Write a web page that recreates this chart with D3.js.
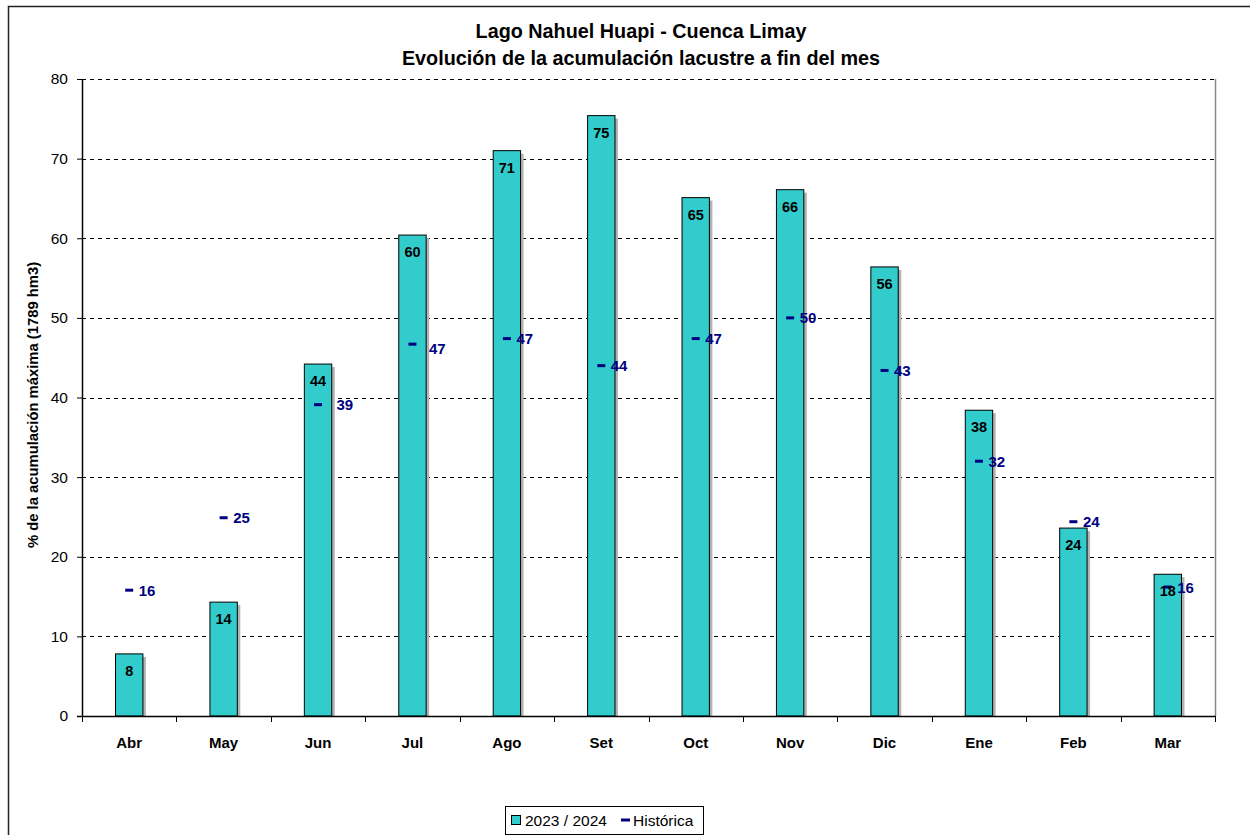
<!DOCTYPE html>
<html>
<head>
<meta charset="utf-8">
<script src="https://cdn.jsdelivr.net/npm/d3@7"></script>
<style>
  html, body { margin: 0; padding: 0; background: #fff; }
  svg { display: block; font-family: "Liberation Sans", Arial, sans-serif; }
</style>
</head>
<body>
<svg id="chart" width="1250" height="835"></svg>
<script>
// Months of the hydrological year (April to March)
const months = ["Abr", "May", "Jun", "Jul", "Ago", "Set", "Oct", "Nov", "Dic", "Ene", "Feb", "Mar"];
// Storage at month end, 2023/2024 (% of maximum storage, 1789 hm3)
const season2023 = [7.8, 14.3, 44.2, 60.4, 71.0, 75.4, 65.1, 66.1, 56.4, 38.4, 23.6, 17.8];
// Historical month-end storage (%)
const historic = [15.8, 24.9, 39.1, 46.7, 47.4, 44.0, 47.4, 50.0, 43.4, 32.0, 24.4, 16.2];
// Value axis ticks
const yTicks = [0, 10, 20, 30, 40, 50, 60, 70, 80];

const titleLines = ["Lago Nahuel Huapi - Cuenca Limay", "Evolución de la acumulación lacustre a fin del mes"];
const yTitle = "% de la acumulación máxima (1789 hm3)";
const legendLabels = ["2023 / 2024", "Histórica"];

const barColor = "#33CCCC";
const histColor = "#000080";

const svg = d3.select("#chart");
const plot = { left: 82, right: 1215, top: 79, bottom: 716 };

// Hand-placed historical labels (moved clear of the bar edge)
const histLabelNudge = { Jun: [9, 0], Jul: [7, 4] };

// Outer chart frame
svg.append("rect")
  .attr("x", 8.5).attr("y", 6.5)
  .attr("width", 1300).attr("height", 900)
  .attr("fill", "#fff").attr("stroke", "#222").attr("stroke-width", 1.5);

const x = d3.scaleBand()
  .domain(months)
  .range([plot.left, plot.right])
  .paddingInner(0.71)
  .paddingOuter(0.355);

const y = d3.scaleLinear()
  .domain([0, 80])
  .range([plot.bottom, plot.top]);

const cx = i => x(months[i]) + x.bandwidth() / 2;

// Horizontal dashed gridlines
svg.append("g")
  .selectAll("line")
  .data(yTicks.filter(t => t > 0))
  .join("line")
  .attr("x1", plot.left).attr("x2", plot.right)
  .attr("y1", d => Math.round(y(d)) + 0.5).attr("y2", d => Math.round(y(d)) + 0.5)
  .attr("stroke", "#000").attr("stroke-width", 1)
  .attr("stroke-dasharray", "4,4");

// Right edge of the plot area
svg.append("line")
  .attr("x1", plot.right + 0.5).attr("x2", plot.right + 0.5)
  .attr("y1", plot.top).attr("y2", plot.bottom)
  .attr("stroke", "#888").attr("stroke-width", 1.5);

// Bar shadows
svg.append("g")
  .selectAll("rect")
  .data(season2023)
  .join("rect")
  .attr("x", (d, i) => x(months[i]) + 3)
  .attr("y", d => y(d) + 3)
  .attr("width", x.bandwidth())
  .attr("height", d => plot.bottom - y(d) - 3)
  .attr("fill", "#b3b3b3");

// 2023/2024 bars
svg.append("g")
  .selectAll("rect")
  .data(season2023)
  .join("rect")
  .attr("x", (d, i) => x(months[i]))
  .attr("y", d => y(d))
  .attr("width", x.bandwidth())
  .attr("height", d => plot.bottom - y(d))
  .attr("fill", barColor)
  .attr("stroke", "#000").attr("stroke-width", 1);

// Historical markers
const hist = svg.append("g");
hist.selectAll("line")
  .data(historic)
  .join("line")
  .attr("x1", (d, i) => cx(i) - 4)
  .attr("x2", (d, i) => cx(i) + 4)
  .attr("y1", d => y(d)).attr("y2", d => y(d))
  .attr("stroke", histColor).attr("stroke-width", 3);

// Bar value labels
svg.append("g")
  .selectAll("text")
  .data(season2023)
  .join("text")
  .attr("x", (d, i) => cx(i))
  .attr("y", d => y(d) + 22)
  .attr("text-anchor", "middle")
  .attr("font-size", "14.5px").attr("font-weight", "bold")
  .attr("fill", "#000")
  .text(d => d3.format(".0f")(d));

// Historical value labels
hist.selectAll("text")
  .data(historic)
  .join("text")
  .attr("x", (d, i) => cx(i) + 9.5 + (histLabelNudge[months[i]] || [0, 0])[0])
  .attr("y", (d, i) => y(d) + 5.5 + (histLabelNudge[months[i]] || [0, 0])[1])
  .attr("font-size", "15px").attr("font-weight", "bold")
  .attr("fill", histColor)
  .text(d => d3.format(".0f")(d));

// Y axis
const yAxis = svg.append("g")
  .attr("transform", `translate(${plot.left},0)`)
  .call(d3.axisLeft(y).tickValues(yTicks).tickSize(5).tickPadding(9).tickSizeOuter(0));
yAxis.select(".domain").attr("stroke", "#000").attr("stroke-width", 1.5);
yAxis.selectAll(".tick line").attr("stroke", "#000");
yAxis.selectAll(".tick text")
  .attr("font-family", "Liberation Sans, Arial, sans-serif")
  .attr("font-size", "15.5px").attr("fill", "#000");

// X axis: category labels
const xAxis = svg.append("g")
  .attr("transform", `translate(0,${plot.bottom})`)
  .call(d3.axisBottom(x).tickSize(0).tickPadding(21).tickSizeOuter(0));
xAxis.select(".domain").remove();
xAxis.selectAll(".tick text")
  .attr("font-family", "Liberation Sans, Arial, sans-serif")
  .attr("font-size", "15px").attr("font-weight", "bold").attr("fill", "#000");

// X axis line and category boundary ticks
svg.append("line")
  .attr("x1", plot.left - 5).attr("x2", plot.right + 1)
  .attr("y1", plot.bottom + 0.5).attr("y2", plot.bottom + 0.5)
  .attr("stroke", "#000").attr("stroke-width", 1.5);
svg.append("g")
  .selectAll("line")
  .data(d3.range(months.length + 1))
  .join("line")
  .attr("x1", i => Math.round(plot.left + i * x.step()) + 0.5)
  .attr("x2", i => Math.round(plot.left + i * x.step()) + 0.5)
  .attr("y1", plot.bottom).attr("y2", plot.bottom + 6)
  .attr("stroke", "#000").attr("stroke-width", 1);

// Titles
svg.append("g")
  .selectAll("text")
  .data(titleLines)
  .join("text")
  .attr("x", 641)
  .attr("y", (d, i) => 38 + i * 27)
  .attr("text-anchor", "middle")
  .attr("font-size", "19.8px").attr("font-weight", "bold")
  .attr("fill", "#000")
  .text(d => d);

svg.append("text")
  .attr("transform", "translate(38,405) rotate(-90)")
  .attr("text-anchor", "middle")
  .attr("font-size", "14.8px").attr("font-weight", "bold")
  .attr("fill", "#000")
  .text(yTitle);

// Legend
const legend = svg.append("g");
legend.append("rect")
  .attr("x", 505.5).attr("y", 806.5)
  .attr("width", 198).attr("height", 28)
  .attr("fill", "#fff").attr("stroke", "#000").attr("stroke-width", 1);
legend.append("rect")
  .attr("x", 511.5).attr("y", 815.5)
  .attr("width", 9).attr("height", 9)
  .attr("fill", barColor).attr("stroke", "#000").attr("stroke-width", 1);
legend.append("text")
  .attr("x", 525).attr("y", 826)
  .attr("font-size", "15.5px").attr("fill", "#000")
  .text(legendLabels[0]);
legend.append("line")
  .attr("x1", 621).attr("x2", 630)
  .attr("y1", 820).attr("y2", 820)
  .attr("stroke", histColor).attr("stroke-width", 3);
legend.append("text")
  .attr("x", 633).attr("y", 826)
  .attr("font-size", "15.5px").attr("fill", "#000")
  .text(legendLabels[1]);
</script>
</body>
</html>
